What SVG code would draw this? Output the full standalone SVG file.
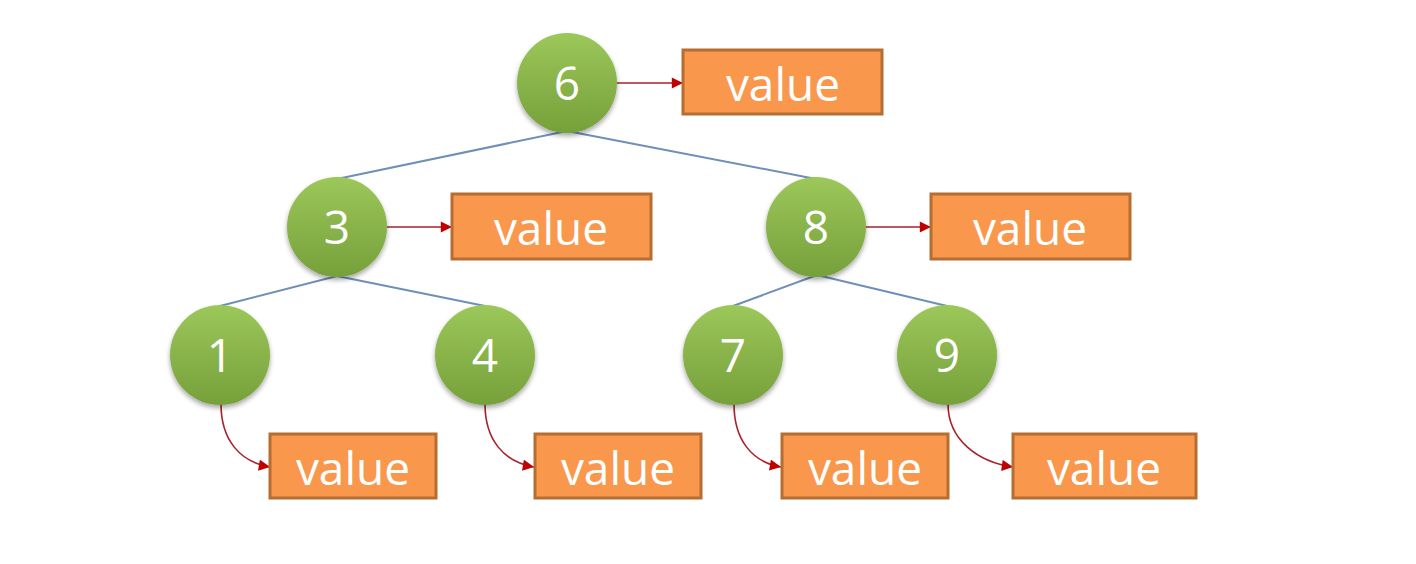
<svg xmlns="http://www.w3.org/2000/svg" width="1416" height="564" viewBox="0 0 1416 564">
<defs>
<linearGradient id="g" x1="0" y1="0" x2="0" y2="1">
<stop offset="0" stop-color="#9cc75a"/>
<stop offset="1" stop-color="#76a03a"/>
</linearGradient>
<filter id="sh" x="-20%" y="-20%" width="140%" height="150%">
<feGaussianBlur in="SourceAlpha" stdDeviation="2.5"/>
<feOffset dy="3" result="b"/>
<feComponentTransfer><feFuncA type="linear" slope="0.35"/></feComponentTransfer>
<feMerge><feMergeNode/><feMergeNode in="SourceGraphic"/></feMerge>
</filter>
<marker id="ah" viewBox="0 0 10 10" refX="10" refY="5" markerWidth="7.5" markerHeight="7" markerUnits="strokeWidth" orient="auto">
<path d="M0,0 L10,5 L0,10 Z" fill="#c00000"/>
</marker>
</defs>
<style>
.n{fill:url(#g);filter:url(#sh)}
.b{fill:#f9974c;stroke:#b66d31;stroke-width:3}
.t{font-family:"Open Sans","DejaVu Sans",sans-serif;font-size:46px;fill:#ffffff;text-anchor:middle}
.e{stroke:#6f8fb8;stroke-width:2;fill:none}
.a{stroke:#a8222a;stroke-width:1.6;fill:none;marker-end:url(#ah)}
</style>
<rect width="1416" height="564" fill="#ffffff"/>
<g id="connectors">
<path class="e" d="M567,131 L337,179"/>
<path class="e" d="M567,131 L816,179"/>
<path class="e" d="M337,276 L220,306"/>
<path class="e" d="M337,276 L485,306"/>
<path class="e" d="M817,275 L733,306"/>
<path class="e" d="M817,275 L947,306"/>
<path class="a" d="M617,83 L683,83"/>
<path class="a" d="M387,227 L452,227"/>
<path class="a" d="M866,227 L931,227"/>
<path class="a" d="M221,404 C221,440 240,462 270,467"/>
<path class="a" d="M485,404 C485,440 504,462 534,467"/>
<path class="a" d="M734,404 C734,440 752,462 781,467"/>
<path class="a" d="M948,404 C948,440 978,462 1013,467"/>
</g>
<g id="n6"><circle class="n" cx="567" cy="83" r="50"/><text class="t" x="567" y="100">6</text></g>
<g id="v6"><rect class="b" x="683" y="50" width="199" height="64"/><text class="t" x="783" y="101">value</text></g>
<g id="n3"><circle class="n" cx="337" cy="227" r="50"/><text class="t" x="337" y="244">3</text></g>
<g id="v3"><rect class="b" x="452" y="194" width="199" height="65"/><text class="t" x="551" y="245">value</text></g>
<g id="n8"><circle class="n" cx="816" cy="227" r="50"/><text class="t" x="816" y="244">8</text></g>
<g id="v8"><rect class="b" x="931" y="194" width="199" height="65"/><text class="t" x="1030" y="245">value</text></g>
<g id="n1"><circle class="n" cx="220" cy="355" r="50"/><text class="t" x="220" y="372">1</text></g>
<g id="v1"><rect class="b" x="270" y="434" width="166" height="64"/><text class="t" x="353" y="485">value</text></g>
<g id="n4"><circle class="n" cx="485" cy="355" r="50"/><text class="t" x="485" y="372">4</text></g>
<g id="v4"><rect class="b" x="535" y="434" width="166" height="64"/><text class="t" x="618" y="485">value</text></g>
<g id="n7"><circle class="n" cx="733" cy="355" r="50"/><text class="t" x="733" y="372">7</text></g>
<g id="v7"><rect class="b" x="782" y="434" width="166" height="64"/><text class="t" x="865" y="485">value</text></g>
<g id="n9"><circle class="n" cx="947" cy="355" r="50"/><text class="t" x="947" y="372">9</text></g>
<g id="v9"><rect class="b" x="1013" y="434" width="183" height="64"/><text class="t" x="1104" y="485">value</text></g>
</svg>
